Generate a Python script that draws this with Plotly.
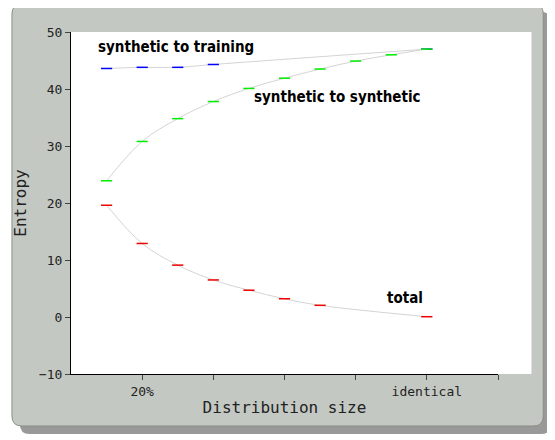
import plotly.graph_objects as go

x_ss = [0.5, 1, 1.5, 2, 2.5, 3, 3.5, 4, 4.5, 5]
y_ss = [23.9, 30.8, 34.8, 37.8, 40.1, 41.9, 43.5, 44.9, 46.0, 47.0]
x_st = [0.5, 1, 1.5, 2, 5]
y_st = [43.6, 43.8, 43.8, 44.3, 47.0]
x_tot = [0.5, 1, 1.5, 2, 2.5, 3, 3.5, 5]
y_tot = [19.6, 12.9, 9.1, 6.5, 4.7, 3.2, 2.05, 0.05]
tick_vals = [1, 2, 3, 4, 5, 6]
tick_text = ["20%", "", "", "", "identical", ""]

OFF = 8  # page body margin
W, H = 555, 440
L, T = 64 - OFF, 32 - OFF
pw, ph = 498 - 64, 374 - 32
R, B = W - L - pw, H - T - ph
def px(x): return (x - OFF - L) / pw
def py(y): return (H - B - (y - OFF)) / ph

def rrect(x0, y0, x1, y1, r):
    X0, X1 = px(x0), px(x1); Y0, Y1 = py(y0), py(y1)
    rx, ry = r / pw, r / ph
    return (f"M {X0+rx},{Y0} L {X1-rx},{Y0} Q {X1},{Y0} {X1},{Y0-ry} L {X1},{Y1+ry} "
            f"Q {X1},{Y1} {X1-rx},{Y1} L {X0+rx},{Y1} Q {X0},{Y1} {X0},{Y1+ry} "
            f"L {X0},{Y0-ry} Q {X0},{Y0} {X0+rx},{Y0} Z")

fig = go.Figure()
line = dict(color="#d4d4d4", width=1, shape="spline")
for xs, ys, c in [(x_st, y_st, "#0000ff"), (x_ss, y_ss, "#00ee00"), (x_tot, y_tot, "#ee0000")]:
    fig.add_trace(go.Scatter(x=xs, y=ys, mode="lines+markers", line=line,
                             marker=dict(symbol="line-ew", size=8, line=dict(color=c, width=1.5)),
                             showlegend=False, hoverinfo="skip"))

shapes = [
    dict(type="path", xref="paper", yref="paper", path=rrect(12, 12, 552, 434, 10),
         fillcolor="#555555", line=dict(width=0), layer="below", opacity=0.6),
    dict(type="path", xref="paper", yref="paper", path=rrect(4, 4, 544, 426, 10),
         fillcolor="#c4c8c2", line=dict(color="#8a8d88", width=1), layer="below"),
    dict(type="rect", xref="paper", yref="paper", x0=0, y0=0, x1=px(532), y1=1,
         fillcolor="white", line=dict(width=0), layer="below"),
]
ann_font = dict(family="DejaVu Sans Condensed", size=15, color="black")
anns = [
    dict(x=0.5 - 0.15, y=47.3, text="<b>synthetic to training</b>", xanchor="left"),
    dict(x=3.75, y=38.6, text="<b>synthetic to synthetic</b>", xanchor="center"),
    dict(x=4.7, y=3.4, text="<b>total</b>", xanchor="center"),
]
fig.update_layout(
    width=W, height=H, margin=dict(l=L, r=R, t=T, b=B),
    paper_bgcolor="white", plot_bgcolor="rgba(0,0,0,0)", shapes=shapes,
    annotations=[dict(a, showarrow=False, font=ann_font, xref="x", yref="y") for a in anns],
    font=dict(family="DejaVu Sans Mono", size=13, color="#222"),
)
fig.update_xaxes(range=[0, 6], tickvals=tick_vals, ticktext=tick_text, ticks="outside",
                 ticklen=5, showgrid=False, zeroline=False, showline=True, linecolor="black",
                 title=dict(text="Distribution size", standoff=4))
fig.update_yaxes(range=[-10, 50], dtick=10, ticks="outside", ticklen=5, showgrid=False,
                 zeroline=False, showline=True, linecolor="black",
                 title=dict(text="Entropy", standoff=8))
fig.write_html("out.html")
